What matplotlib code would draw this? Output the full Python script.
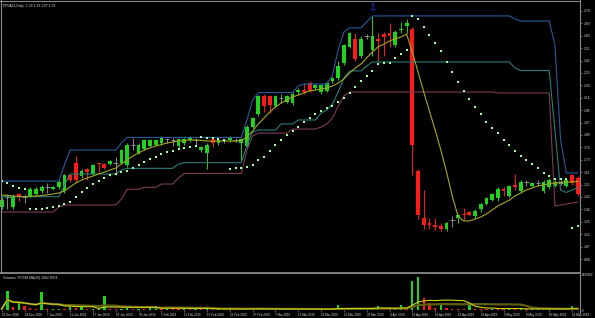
import matplotlib
matplotlib.use("Agg")
import matplotlib.pyplot as plt
import numpy as np
import pandas as pd
from matplotlib.lines import Line2D

# daily OHLC, one entry per bar (26 Dec 2018 .. 23 May 2019)
opens = [1.36, 1.43, 1.36, 1.45, 1.43, 1.44, 1.45, 1.47, 1.50, 1.49,
         1.50, 1.47, 1.59, 1.68, 1.58, 1.63, 1.60, 1.68, 1.67, 1.67,
         1.68, 1.68, 1.66, 1.81, 1.75, 1.78, 1.80, 1.81, 1.82, 1.85,
         1.84, 1.80, 1.82, 1.84, 1.84, 1.77, 1.75, 1.85, 1.82, 1.84,
         1.84, 1.84, 1.82, 1.80, 1.94, 2.03, 2.16, 2.16, 2.09, 2.15,
         2.12, 2.11, 2.19, 2.21, 2.26, 2.22, 2.19, 2.20, 2.27, 2.29,
         2.40, 2.52, 2.58, 2.45, 2.60, 2.50, 2.58, 2.61, 2.62, 2.53,
         2.64, 2.67, 2.65, 1.62, 1.28, 1.24, 1.23, 1.22, 1.20, 1.26,
         1.28, 1.31, 1.32, 1.29, 1.34, 1.38, 1.41, 1.42, 1.49, 1.44,
         1.52, 1.47, 1.54, 1.51, 1.53, 1.47, 1.50, 1.51, 1.53, 1.51,
         1.59, 1.57]
highs = [1.43, 1.45, 1.45, 1.46, 1.45, 1.50, 1.50, 1.52, 1.53, 1.51,
         1.55, 1.60, 1.60, 1.73, 1.63, 1.64, 1.67, 1.68, 1.68, 1.70,
         1.72, 1.78, 1.82, 1.86, 1.82, 1.85, 1.85, 1.85, 1.87, 1.86,
         1.86, 1.86, 1.86, 1.87, 1.86, 1.80, 1.82, 1.86, 1.85, 1.85,
         1.87, 1.86, 1.86, 1.95, 2.01, 2.17, 2.18, 2.17, 2.17, 2.18,
         2.17, 2.19, 2.22, 2.26, 2.27, 2.25, 2.25, 2.27, 2.30, 2.42,
         2.54, 2.63, 2.62, 2.60, 2.61, 2.74, 2.62, 2.63, 2.69, 2.64,
         2.70, 2.72, 2.66, 1.63, 1.48, 1.28, 1.28, 1.24, 1.25, 1.29,
         1.31, 1.35, 1.33, 1.34, 1.39, 1.43, 1.46, 1.50, 1.50, 1.52,
         1.60, 1.55, 1.55, 1.54, 1.55, 1.55, 1.57, 1.55, 1.55, 1.56,
         1.60, 1.58]
lows = [1.34, 1.34, 1.34, 1.40, 1.39, 1.43, 1.44, 1.46, 1.46, 1.48,
        1.49, 1.46, 1.54, 1.54, 1.57, 1.55, 1.59, 1.61, 1.63, 1.66,
        1.59, 1.67, 1.65, 1.77, 1.74, 1.77, 1.79, 1.80, 1.81, 1.82,
        1.80, 1.79, 1.81, 1.83, 1.80, 1.76, 1.63, 1.79, 1.81, 1.82,
        1.83, 1.83, 1.70, 1.79, 1.93, 2.02, 2.05, 2.04, 2.08, 2.11,
        2.11, 2.10, 2.18, 2.18, 2.19, 2.21, 2.18, 2.19, 2.26, 2.28,
        2.39, 2.51, 2.42, 2.44, 2.58, 2.45, 2.42, 2.45, 2.52, 2.52,
        2.62, 2.62, 1.59, 1.27, 1.20, 1.20, 1.19, 1.18, 1.18, 1.21,
        1.24, 1.26, 1.29, 1.28, 1.32, 1.37, 1.40, 1.40, 1.44, 1.43,
        1.48, 1.46, 1.51, 1.50, 1.51, 1.46, 1.49, 1.50, 1.52, 1.50,
        1.52, 1.44]
closes = [1.41, 1.43, 1.44, 1.43, 1.43, 1.49, 1.49, 1.50, 1.50, 1.50,
          1.54, 1.59, 1.55, 1.55, 1.62, 1.61, 1.66, 1.67, 1.64, 1.69,
          1.68, 1.77, 1.81, 1.81, 1.81, 1.84, 1.84, 1.84, 1.86, 1.85,
          1.84, 1.85, 1.85, 1.86, 1.84, 1.79, 1.81, 1.82, 1.84, 1.84,
          1.86, 1.84, 1.85, 1.94, 2.00, 2.16, 2.09, 2.10, 2.16, 2.15,
          2.16, 2.18, 2.21, 2.19, 2.20, 2.24, 2.24, 2.26, 2.29, 2.38,
          2.53, 2.62, 2.43, 2.58, 2.60, 2.60, 2.56, 2.59, 2.60, 2.63,
          2.65, 2.69, 1.81, 1.30, 1.23, 1.23, 1.21, 1.20, 1.24, 1.26,
          1.30, 1.30, 1.30, 1.33, 1.38, 1.42, 1.45, 1.49, 1.47, 1.51,
          1.50, 1.54, 1.54, 1.53, 1.53, 1.54, 1.55, 1.54, 1.53, 1.55,
          1.53, 1.45]

# channel lines (blue upper, teal middle, maroon lower)
upper_band = ([1.546] * 11 + [1.662] + [1.771] * 9 + [1.822] + [1.862] * 21
              + [1.989, 2.134] + [2.188] * 7 + [2.236] + [2.250] * 5
              + [2.315, 2.497, 2.627] + [2.657] * 3 + [2.700] + [2.744] * 25
              + [2.722] + [2.707] * 6 + [2.533, 1.844] + [1.604] * 3)
middle_band = ([1.432] * 11 + [1.517] + [1.597] * 9 + [1.626] + [1.638] * 9
               + [1.670] + [1.679] * 11 + [1.807, 1.902] + [1.916] * 4
               + [1.960] * 3 + [1.989] * 4 + [2.040, 2.061, 2.105, 2.192, 2.294]
               + [2.345] * 3 + [2.381] + [2.410] * 25 + [2.366] + [2.348] * 6
               + [1.916, 1.481, 1.463, 1.481, 1.495])
lower_band = ([1.321] * 10 + [1.357] + [1.372] * 10 + [1.415] + [1.486] * 3
              + [1.500] * 3 + [1.524] * 3 + [1.568] + [1.601] * 11
              + [1.771, 1.873] + [1.894] * 6 + [1.923] * 5
              + [1.938, 1.960, 2.003, 2.090, 2.163] + [2.192] * 26
              + [2.185] * 10 + [1.365, 1.372, 1.379, 1.386, 1.394])

# yellow moving average
ma_line = [1.445, 1.441, 1.437, 1.434, 1.432, 1.434, 1.437, 1.441, 1.445, 1.452,
           1.459, 1.474, 1.503, 1.532, 1.553, 1.568, 1.582, 1.597, 1.611, 1.626,
           1.640, 1.670, 1.699, 1.728, 1.749, 1.771, 1.786, 1.800, 1.811, 1.822,
           1.829, 1.836, 1.840, 1.844, 1.844, 1.840, 1.836, 1.836, 1.836, 1.836,
           1.836, 1.836, 1.840, 1.866, 1.909, 1.960, 2.003, 2.047, 2.083, 2.112,
           2.134, 2.156, 2.170, 2.185, 2.199, 2.207, 2.214, 2.221, 2.236, 2.257,
           2.286, 2.330, 2.366, 2.395, 2.439, 2.482, 2.519, 2.540, 2.562, 2.577,
           2.591, 2.613, 2.482, 2.337, 2.192, 2.054, 1.916, 1.771, 1.611, 1.437,
           1.292, 1.256, 1.256, 1.270, 1.285, 1.307, 1.336, 1.365, 1.386, 1.408,
           1.437, 1.459, 1.481, 1.495, 1.510, 1.517, 1.528, 1.532, 1.535, 1.539,
           1.539, 1.543]

# parabolic SAR dots
sar = [1.546, 1.529, 1.512, 1.497, 1.486, 1.341, 1.341, 1.345, 1.352, 1.357,
       1.365, 1.377, 1.396, 1.432, 1.464, 1.493, 1.524, 1.548, 1.570, 1.590,
       1.597, 1.608, 1.619, 1.638, 1.662, 1.682, 1.704, 1.722, 1.740, 1.754,
       1.767, 1.776, 1.783, 1.791, 1.797, 1.862, 1.858, 1.855, 1.851, 1.847,
       1.631, 1.637, 1.644, 1.651, 1.662, 1.699, 1.720, 1.764, 1.804, 1.844,
       1.880, 1.911, 1.940, 1.971, 2.000, 2.029, 2.054, 2.076, 2.090, 2.122,
       2.146, 2.187, 2.226, 2.274, 2.308, 2.347, 2.395, 2.405, 2.405, 2.437,
       2.468, 2.497, 2.744, 2.722, 2.662, 2.606, 2.550, 2.492, 2.412, 2.339,
       2.267, 2.202, 2.141, 2.085, 2.030, 1.977, 1.933, 1.891, 1.847, 1.804,
       1.764, 1.730, 1.699, 1.667, 1.638, 1.606, 1.582, 1.561, 1.561, 1.561,
       1.205, 1.220]

volumes = [50, 820, 140, 290, 180, 70, 60, 770, 40, 50,
           60, 50, 120, 90, 110, 40, 50, 80, 600, 60,
           40, 50, 100, 40, 60, 50, 70, 180, 60, 120,
           50, 40, 60, 30, 50, 40, 60, 30, 40, 30,
           50, 30, 40, 60, 50, 70, 40, 50, 30, 40,
           30, 50, 30, 40, 30, 40, 30, 40, 50, 210,
           60, 70, 50, 60, 40, 50, 190, 60, 50, 70,
           200, 60, 1240, 1410, 510, 310, 100, 210, 100, 60,
           40, 30, 210, 50, 40, 30, 50, 40, 30, 100,
           40, 50, 30, 40, 60, 40, 50, 30, 40, 30,
           190, 40]
volumes = [v * 1000 for v in volumes]

date_labels = ["26 Dec 2018", "28 Dec 2018", "7 Jan 2019", "11 Jan 2019",
               "17 Jan 2019", "23 Jan 2019", "30 Jan 2019", "5 Feb 2019",
               "11 Feb 2019", "15 Feb 2019", "21 Feb 2019", "27 Feb 2019",
               "7 Mar 2019", "13 Mar 2019", "19 Mar 2019", "25 Mar 2019",
               "29 Mar 2019", "4 Apr 2019", "10 Apr 2019", "16 Apr 2019",
               "23 Apr 2019", "29 Apr 2019", "3 May 2019", "9 May 2019",
               "16 May 2019", "22 May 2019"]
price_ticks = [0.98, 1.07, 1.16, 1.25, 1.34, 1.43, 1.52, 1.61, 1.70, 1.79,
               1.88, 1.97, 2.06, 2.15, 2.24, 2.33, 2.42, 2.51, 2.60, 2.69, 2.78]
vol_max = 1489902

GREEN = "#1ed21e"
RED = "#ff1a1a"
GRAY = "#8c8c8c"
TXT = "#d8d8d8"
plt.rcParams["font.family"] = ["Liberation Sans", "DejaVu Sans"]
FS = 2.4

W, H = 595, 318
fig = plt.figure(figsize=(W / 100, H / 100), dpi=100, facecolor="black")


def box(x0, y0, x1, y1):
    return [x0 / W, 1 - y1 / H, (x1 - x0) / W, (y1 - y0) / H]


ax = fig.add_axes(box(0, 2, 580, 271), facecolor="black")
vax = fig.add_axes(box(0, 275, 580, 310), facecolor="black")

x = np.arange(len(closes))
o, h, l, c = map(np.array, (opens, highs, lows, closes))
col = np.where(c > o, GREEN, np.where(c < o, RED, GRAY))

# candles
ax.vlines(x, l, h, colors=col, lw=0.7, zorder=2)
ax.bar(x, np.abs(c - o), bottom=np.minimum(o, c), width=0.66,
       color=col, linewidth=0, zorder=2)
doji = c == o
ax.hlines(c[doji], x[doji] - 0.4, x[doji] + 0.4, colors=GRAY, lw=0.7, zorder=2)

# indicators
ax.plot(x, upper_band, color="#28599c", lw=0.8, zorder=3)
ax.plot(x, middle_band, color="#2a7d78", lw=0.8, zorder=3)
ax.plot(x, lower_band, color="#7a3d52", lw=0.8, zorder=3)
ax.plot(x, ma_line, color="#a6a622", lw=0.8, zorder=3)
ax.scatter(x, sar, s=1.8, marker="s", color="#a0ffa0", linewidths=0, zorder=4)
ax.text(65, 2.80, "\u21e9", color="#2a3cff", fontsize=7, ha="center",
        va="center", family="DejaVu Sans", zorder=5)

ax.set_xlim(-0.3, 101.4)
ax.set_ylim(0.893, 2.845)
ax.set_xticks([])
ax.yaxis.tick_right()
ax.set_yticks(price_ticks)
ax.set_yticklabels([f"{t:.2f}" for t in price_ticks])
ax.tick_params(axis="y", colors=GRAY, labelcolor=TXT, labelsize=FS,
               length=1.5, width=0.5, pad=1)

# volume panel
vol = np.array(volumes)
vcol = [GREEN if i == 0 or vol[i] >= vol[i - 1] else RED for i in range(len(vol))]
vax.bar(x, vol, width=0.4, color=vcol, linewidth=0)
vs = pd.Series(vol)
vax.plot(x, vs.rolling(20, min_periods=1).mean(), color="#5f5f12", lw=1.6)
vax.plot(x, vs.rolling(10, min_periods=1).mean(), color="#d4d41e", lw=0.8)
vax.set_xlim(-0.3, 101.4)
vax.set_ylim(0, vol_max)
vax.yaxis.tick_right()
vax.set_yticks([0, vol_max])
vax.set_yticklabels(["0", str(vol_max)])
vax.tick_params(axis="y", colors=GRAY, labelcolor=TXT, labelsize=2.2,
                length=1.0, width=0.5, pad=0.6)
vax.set_xticks(np.arange(0, 101, 4))
vax.set_xticklabels(date_labels, ha="left")
vax.tick_params(axis="x", colors=GRAY, labelcolor=TXT, labelsize=2.2,
                length=1.5, width=0.5, pad=0.5)

for a in (ax, vax):
    for s in a.spines.values():
        s.set_visible(False)

# frame lines
fx = 580 / W
fig.add_artist(Line2D([0, fx], [1 - 0.5 / H] * 2, color="#8a8a8a", lw=0.8))
fig.add_artist(Line2D([0.5 / W] * 2, [1 - 273 / H, 1], color="#8a8a8a", lw=0.8))
fig.add_artist(Line2D([0, fx], [1 - 273 / H] * 2, color="#8a8a8a", lw=1.3))
fig.add_artist(Line2D([fx, fx], [1 - 313 / H, 1], color="#8a8a8a", lw=0.8))

fig.text(3 / W, 1 - 6 / H, "PRVA11,Daily  1.33 1.33 1.07 1.07", color=TXT,
         fontsize=FS, va="center")
fig.text(3 / W, 1 - 277.5 / H, "Volumes 757938 MA(20) 1082 8504", color=TXT,
         fontsize=FS, va="center")

fig.savefig("out.png", dpi=100, facecolor="black")
